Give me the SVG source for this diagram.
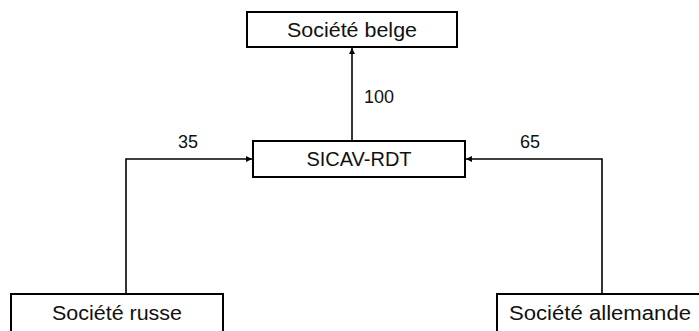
<svg xmlns="http://www.w3.org/2000/svg" width="699" height="331" viewBox="0 0 699 331">
<style>
.box{fill:#fff;stroke:#000;stroke-width:2}
.t{font-family:"Liberation Sans",Arial,sans-serif;font-size:20px;fill:#111;text-anchor:middle}
.l{font-family:"Liberation Sans",Arial,sans-serif;font-size:18px;fill:#111;text-anchor:middle}
.c{fill:none;stroke:#000;stroke-width:1.6}
</style>
<defs>
<marker id="ah" viewBox="0 0 10 10" refX="10" refY="5" markerWidth="6" markerHeight="6" markerUnits="userSpaceOnUse" orient="auto">
<path d="M0,0 L10,5 L0,10 z" fill="#000"/>
</marker>
</defs>
<rect width="699" height="331" fill="#fff"/>
<g id="connectors">
<path class="c" d="M352,141 V48" marker-end="url(#ah)"/>
<path class="c" d="M126,294 V159 H252" marker-end="url(#ah)"/>
<path class="c" d="M602,294 V159 H466" marker-end="url(#ah)"/>
<text class="l" x="379" y="103">100</text>
<text class="l" x="188" y="148">35</text>
<text class="l" x="530" y="148">65</text>
</g>
<g id="belge">
<rect class="box" x="247" y="12" width="210" height="35"/>
<text class="t" x="352" y="37" textLength="130" lengthAdjust="spacingAndGlyphs">Société belge</text>
</g>
<g id="sicav">
<rect class="box" x="253" y="141" width="212" height="36"/>
<text class="t" x="359" y="166">SICAV-RDT</text>
</g>
<g id="russe">
<rect class="box" x="11" y="294" width="212" height="45"/>
<text class="t" x="117" y="320" textLength="130" lengthAdjust="spacingAndGlyphs">Société russe</text>
</g>
<g id="allemande">
<rect class="box" x="497" y="294" width="210" height="45"/>
<text class="t" x="600" y="320" textLength="182" lengthAdjust="spacingAndGlyphs">Société allemande</text>
</g>
</svg>
